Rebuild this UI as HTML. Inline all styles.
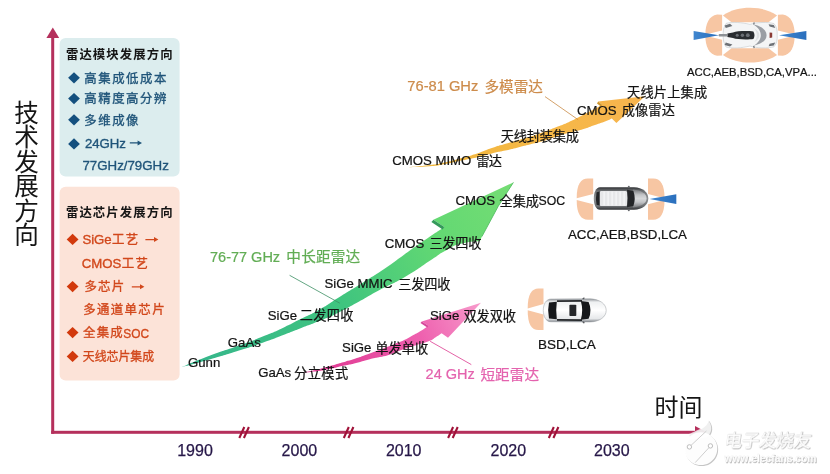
<!DOCTYPE html>
<html lang="zh"><head><meta charset="utf-8"><title>雷达技术发展方向</title>
<style>
html,body{margin:0;padding:0;background:#fff;}
body{width:830px;height:474px;overflow:hidden;font-family:"Liberation Sans","Noto Sans CJK SC",sans-serif;}
svg{display:block;font-family:"Liberation Sans","Noto Sans CJK SC",sans-serif;font-kerning:none;filter:blur(0.4px);}
</style></head><body>
<svg width="830" height="474" viewBox="0 0 830 474">
<rect width="830" height="474" fill="#fff"/>
<rect x="59.6" y="38" width="120" height="138.6" rx="6" fill="#dcedee"/>
<rect x="59.6" y="186.8" width="120" height="193.6" rx="6" fill="#fce3d8"/>
<rect x="51.2" y="36" width="3" height="397.8" fill="#b5305c"/>
<rect x="51.2" y="430.8" width="645" height="3" fill="#b5305c"/>
<path d="M52.8 27.6 L59.2 38 L46.4 38 Z" fill="#b5305c"/>
<path d="M705.8 431.8 L695 426 L695 437.6 Z" fill="#b5305c"/>
<path d="M239.3 438 l5 -11 M243.9 438 l5 -11" stroke="#a01238" stroke-width="2.1" fill="none"/>
<path d="M343.8 438 l5 -11 M348.4 438 l5 -11" stroke="#a01238" stroke-width="2.1" fill="none"/>
<path d="M448.1 438 l5 -11 M452.7 438 l5 -11" stroke="#a01238" stroke-width="2.1" fill="none"/>
<path d="M548.8 438 l5 -11 M553.4 438 l5 -11" stroke="#a01238" stroke-width="2.1" fill="none"/>
<text x="65.90" y="59.07" font-size="12.4" font-weight="bold" letter-spacing="1.1" fill="#151515">雷达模块发展方向</text>
<path d="M68.1 77.8 l5.9 -5.6 l5.9 5.6 l-5.9 5.6 Z" fill="#14507f"/>
<text x="84.30" y="82.57" font-size="12.4" letter-spacing="1.55" fill="#1f5479" stroke="#1f5479" stroke-width="0.35">高集成低成本</text>
<path d="M68.1 98.6 l5.9 -5.6 l5.9 5.6 l-5.9 5.6 Z" fill="#14507f"/>
<text x="84.30" y="103.37" font-size="12.4" letter-spacing="1.55" fill="#1f5479" stroke="#1f5479" stroke-width="0.35">高精度高分辨</text>
<path d="M68.1 119.8 l5.9 -5.6 l5.9 5.6 l-5.9 5.6 Z" fill="#14507f"/>
<text x="84.30" y="124.57" font-size="12.4" letter-spacing="1.55" fill="#1f5479" stroke="#1f5479" stroke-width="0.35">多维成像</text>
<path d="M68.1 143.9 l5.9 -5.6 l5.9 5.6 l-5.9 5.6 Z" fill="#14507f"/>
<text x="84.90" y="147.80" font-size="13.20" fill="#1f5479" stroke="#1f5479" stroke-width="0.35">24GHz</text>
<path d="M129.8 142.2 H137.6 V140.4 L142.0 142.9 L137.6 145.4 V143.6 H129.8 Z" fill="#1f5479"/>
<text x="82.40" y="170.40" font-size="13.30" fill="#1f5479" stroke="#1f5479" stroke-width="0.35">77GHz/79GHz</text>
<text x="65.90" y="217.07" font-size="12.4" font-weight="bold" letter-spacing="1.1" fill="#151515">雷达芯片发展方向</text>
<path d="M66.7 239.4 l5.9 -5.6 l5.9 5.6 l-5.9 5.6 Z" fill="#d2390c"/>
<text x="82.40" y="244.20" font-size="13.20" fill="#d2481c" stroke="#d2481c" stroke-width="0.35">SiGe</text>
<text x="112.05" y="244.17" font-size="12.4" letter-spacing="1.4" fill="#d2481c" stroke="#d2481c" stroke-width="0.35">工艺</text>
<path d="M145.4 238.9 H154.0 V237.1 L158.4 239.6 L154.0 242.1 V240.2 H145.4 Z" fill="#d2481c"/>
<text x="81.80" y="268.30" font-size="13.20" fill="#d2481c" stroke="#d2481c" stroke-width="0.35">CMOS</text>
<text x="121.70" y="268.27" font-size="12.4" letter-spacing="1.4" fill="#d2481c" stroke="#d2481c" stroke-width="0.35">工艺</text>
<path d="M66.7 286.6 l5.9 -5.6 l5.9 5.6 l-5.9 5.6 Z" fill="#d2390c"/>
<text x="84.50" y="291.37" font-size="12.4" letter-spacing="1.2" fill="#d2481c" stroke="#d2481c" stroke-width="0.35">多芯片</text>
<path d="M131.8 286.2 H140.0 V284.3 L144.4 286.8 L140.0 289.3 V287.4 H131.8 Z" fill="#d2481c"/>
<text x="83.20" y="314.47" font-size="12.4" letter-spacing="1.4" fill="#d2481c" stroke="#d2481c" stroke-width="0.35">多通道单芯片</text>
<path d="M66.7 332.6 l5.9 -5.6 l5.9 5.6 l-5.9 5.6 Z" fill="#d2390c"/>
<text x="83.10" y="337.47" font-size="12.4" letter-spacing="1.2" fill="#d2481c" stroke="#d2481c" stroke-width="0.35">全集成</text>
<text x="123.30" y="337.60" font-size="13.20" fill="#d2481c" stroke="#d2481c" stroke-width="0.35" textLength="25.8" lengthAdjust="spacingAndGlyphs">SOC</text>
<path d="M66.7 356.4 l5.9 -5.6 l5.9 5.6 l-5.9 5.6 Z" fill="#d2390c"/>
<text x="82.80" y="361.17" font-size="12.4" textLength="71.2" lengthAdjust="spacingAndGlyphs" fill="#d2481c" stroke="#d2481c" stroke-width="0.35">天线芯片集成</text>
<text x="14.22" y="121.87" font-size="24.6" fill="#151515">技</text>
<text x="14.22" y="146.32" font-size="24.6" fill="#151515">术</text>
<text x="14.22" y="170.77" font-size="24.6" fill="#151515">发</text>
<text x="14.22" y="195.22" font-size="24.6" fill="#151515">展</text>
<text x="14.22" y="219.67" font-size="24.6" fill="#151515">方</text>
<text x="14.22" y="244.12" font-size="24.6" fill="#151515">向</text>
<text x="654.44" y="415.64" font-size="24" fill="#151515">时间</text>
<text x="195.0" y="456.3" font-size="16" text-anchor="middle" fill="#261748" stroke="#261748" stroke-width="0.25">1990</text>
<text x="299.4" y="456.3" font-size="16" text-anchor="middle" fill="#261748" stroke="#261748" stroke-width="0.25">2000</text>
<text x="403.7" y="456.3" font-size="16" text-anchor="middle" fill="#261748" stroke="#261748" stroke-width="0.25">2010</text>
<text x="508.3" y="456.3" font-size="16" text-anchor="middle" fill="#261748" stroke="#261748" stroke-width="0.25">2020</text>
<text x="611.8" y="456.3" font-size="16" text-anchor="middle" fill="#261748" stroke="#261748" stroke-width="0.25">2030</text>
<defs>
<linearGradient id="gg" gradientUnits="userSpaceOnUse" x1="185" y1="368" x2="510" y2="185"><stop offset="0" stop-color="#35b58c"/><stop offset="0.45" stop-color="#3fc47f"/><stop offset="0.75" stop-color="#62d873"/><stop offset="1" stop-color="#74dd74"/></linearGradient>
<linearGradient id="pg" gradientUnits="userSpaceOnUse" x1="340" y1="370" x2="480" y2="303"><stop offset="0" stop-color="#e23f97"/><stop offset="0.55" stop-color="#ee5fae"/><stop offset="1" stop-color="#f79acb"/></linearGradient>
<linearGradient id="yg" gradientUnits="userSpaceOnUse" x1="410" y1="167" x2="640" y2="97"><stop offset="0" stop-color="#f0b73a"/><stop offset="0.6" stop-color="#f6b848"/><stop offset="1" stop-color="#f7b44e"/></linearGradient>
</defs>
<path d="M181.5 367.3 C190.8 363.5 190.3 363.0 209.5 355.8 C228.7 348.6 221.3 352.0 239.0 345.6 C256.7 339.2 247.9 342.6 262.7 336.6 C277.5 330.6 271.0 333.4 283.3 327.7 C295.6 322.0 287.5 325.7 299.6 319.6 C311.7 313.5 306.5 316.9 319.5 309.5 C332.5 302.1 323.9 306.6 338.7 297.4 C353.5 288.2 348.5 291.4 363.8 281.9 C379.1 272.4 371.2 277.8 384.5 268.8 C397.8 259.8 390.1 264.7 403.7 255.0 C417.3 245.3 411.8 249.2 425.3 239.8 C438.8 230.4 438.0 231.2 444.3 226.9 L433.4 219.8 L513.4 182.4 L498.2 206.3 L481.9 236.6 L480 241 C474.0 241.9 473.3 240.5 462.0 243.6 C450.7 246.7 456.5 244.8 446.0 250.4 C435.5 256.0 444.2 251.5 430.6 260.3 C417.0 269.1 422.2 266.9 405.3 276.7 C388.4 286.5 396.3 281.0 380.0 289.8 C363.7 298.6 370.7 295.3 356.4 303.1 C342.1 310.9 350.0 307.1 337.2 313.3 C324.4 319.5 330.4 316.5 318.0 321.6 C305.6 326.7 311.6 324.0 300.0 328.5 C288.4 333.0 295.7 330.3 283.3 335.1 C270.9 339.9 277.5 337.6 262.7 342.8 C247.9 348.0 256.7 345.0 239.0 350.6 C221.3 356.2 228.7 354.0 209.5 359.6 C190.3 365.2 190.8 364.7 181.5 367.3 Z" fill="url(#gg)"/>
<path d="M433.4 219.8 L444.3 226.9 L442.6 229.4 L431.4 222 Z" fill="#34995a"/>
<path d="M513.4 182.4 L498.2 206.3 L481.9 236.6" fill="none" stroke="#52bd62" stroke-width="0.9"/>
<path d="M296.0 373.0 C301.3 372.3 300.7 373.1 312.0 370.8 C323.3 368.5 320.0 368.9 330.0 366.1 C340.0 363.3 334.0 364.9 342.0 362.5 C350.0 360.1 344.8 361.9 354.1 358.9 C363.4 355.9 357.8 357.9 369.8 353.5 C381.8 349.1 379.9 349.7 390.1 345.8 C400.3 341.9 393.5 344.8 400.3 341.8 C407.1 338.8 403.7 340.3 410.4 336.7 C417.1 333.1 414.5 334.8 420.5 331.1 C426.5 327.4 425.8 327.5 428.4 325.7 L421.8 321.5 L481 302.8 L448 337.8 L441.6 333.2 C439.6 334.5 440.0 334.5 435.7 337.2 C431.4 339.9 435.2 338.6 428.6 341.3 C422.0 344.0 424.9 342.4 416.0 345.2 C407.1 348.0 410.6 346.7 402.0 349.8 C393.4 352.9 397.4 352.0 390.1 354.4 C382.8 356.8 386.8 355.4 380.0 357.0 C373.2 358.6 378.4 357.0 369.8 359.2 C361.2 361.4 363.4 361.2 354.1 363.5 C344.8 365.8 350.0 364.3 342.0 366.1 C334.0 367.9 340.0 367.1 330.0 369.0 C320.0 370.9 323.3 370.5 312.0 371.8 C300.7 373.1 301.3 372.6 296.0 373.0 Z" fill="url(#pg)"/>
<path d="M421.8 321.5 L428.4 325.7 L427.3 327.5 L420.5 323.1 Z" fill="#d6469a"/>
<path d="M408.2 167.3 C415.5 166.5 417.7 166.6 430.0 165.0 C442.3 163.4 435.0 164.5 445.0 162.4 C455.0 160.3 448.3 161.9 460.0 158.6 C471.7 155.3 469.1 156.0 480.0 152.4 C490.9 148.8 482.7 151.1 492.7 147.8 C502.7 144.5 495.9 146.9 510.0 142.6 C524.1 138.3 519.7 140.1 535.0 135.0 C550.3 129.9 544.8 131.5 556.0 127.2 C567.2 122.9 560.6 125.7 568.6 122.2 C576.6 118.7 568.8 122.4 580.0 116.6 C591.2 110.8 594.8 108.7 602.2 104.8 L598.2 101.5 L644.9 96.3 L616.4 123 L611.8 118.5 C609.7 119.4 611.5 119.0 605.6 121.3 C599.7 123.6 601.8 122.6 594.2 125.3 C586.6 128.0 590.9 126.9 582.8 129.3 C574.7 131.7 578.9 130.1 570.0 132.6 C561.1 135.1 564.9 133.9 556.0 136.7 C547.1 139.5 551.8 138.6 543.3 141.1 C534.8 143.6 539.0 142.2 530.6 144.3 C522.2 146.4 526.4 145.4 518.0 147.5 C509.6 149.6 513.7 148.7 505.3 150.6 C496.9 152.5 501.9 151.0 492.7 153.2 C483.5 155.4 488.5 154.7 477.6 157.2 C466.7 159.7 470.9 158.5 460.0 160.8 C449.1 163.1 455.0 162.2 445.0 164.0 C435.0 165.8 442.3 165.2 430.0 166.3 C417.7 167.4 415.5 167.0 408.2 167.3 Z" fill="url(#yg)"/>
<path d="M598.2 101.5 L602.2 104.8 L601.2 106.8 L597 103.4 Z" fill="#cf962f"/>
<path d="M289.6 275.3 L339.8 303.2" stroke="#3c8f63" stroke-width="0.8" fill="none"/>
<path d="M430.2 341.3 L471.3 364.6" stroke="#e0509c" stroke-width="0.9" fill="none"/>
<path d="M545 96.6 L578.1 119.7" stroke="#c98a45" stroke-width="0.8" fill="none"/>
<text x="188.00" y="367.40" font-size="13.20" fill="#131313" stroke="#131313" stroke-width="0.22">Gunn</text>
<text x="227.80" y="346.70" font-size="13.20" fill="#131313" stroke="#131313" stroke-width="0.22">GaAs</text>
<text x="267.80" y="319.80" font-size="13.20" fill="#131313" stroke="#131313" stroke-width="0.22">SiGe</text>
<text x="299.65" y="320.06" font-size="13.2" letter-spacing="0.39" fill="#131313" stroke="#131313" stroke-width="0.22">二发四收</text>
<text x="258.20" y="376.90" font-size="13.20" fill="#131313" stroke="#131313" stroke-width="0.22">GaAs</text>
<text x="294.08" y="377.97" font-size="13.2" letter-spacing="0.43" fill="#131313" stroke="#131313" stroke-width="0.22">分立模式</text>
<text x="342.10" y="352.10" font-size="13.20" fill="#131313" stroke="#131313" stroke-width="0.22">SiGe</text>
<text x="375.22" y="352.96" font-size="13.2" letter-spacing="0.1" fill="#131313" stroke="#131313" stroke-width="0.22">单发单收</text>
<text x="324.50" y="288.20" font-size="13.20" fill="#131313" stroke="#131313" stroke-width="0.22">SiGe MMIC</text>
<text x="398.14" y="289.36" font-size="13.2" letter-spacing="-0.14" fill="#131313" stroke="#131313" stroke-width="0.22">三发四收</text>
<text x="384.80" y="248.10" font-size="13.20" fill="#131313" stroke="#131313" stroke-width="0.22">CMOS</text>
<text x="429.44" y="248.16" font-size="13.2" letter-spacing="-0.28" fill="#131313" stroke="#131313" stroke-width="0.22">三发四收</text>
<text x="455.60" y="205.40" font-size="13.20" fill="#131313" stroke="#131313" stroke-width="0.22">CMOS</text>
<text x="499.52" y="205.65" font-size="13.2" letter-spacing="-0.07" fill="#131313" stroke="#131313" stroke-width="0.22">全集成</text>
<text x="538.60" y="205.40" font-size="13.20" fill="#131313" textLength="26.6" lengthAdjust="spacingAndGlyphs" stroke="#131313" stroke-width="0.22">SOC</text>
<text x="430.00" y="320.00" font-size="13.20" fill="#131313" stroke="#131313" stroke-width="0.22">SiGe</text>
<text x="463.51" y="320.66" font-size="13.2" letter-spacing="-0.07" fill="#131313" stroke="#131313" stroke-width="0.22">双发双收</text>
<text x="392.20" y="164.80" font-size="13.20" fill="#131313" stroke="#131313" stroke-width="0.22">CMOS MIMO</text>
<text x="476.18" y="165.63" font-size="13.2" letter-spacing="-0.65" fill="#131313" stroke="#131313" stroke-width="0.22">雷达</text>
<text x="500.72" y="141.31" font-size="13.2" letter-spacing="-0.19" fill="#131313" stroke="#131313" stroke-width="0.22">天线封装集成</text>
<text x="577.00" y="115.30" font-size="13.20" fill="#131313" stroke="#131313" stroke-width="0.22">CMOS</text>
<text x="621.68" y="115.49" font-size="13.2" letter-spacing="0.15" fill="#131313" stroke="#131313" stroke-width="0.22">成像雷达</text>
<text x="627.02" y="96.91" font-size="13.2" letter-spacing="0.19" fill="#131313" stroke="#131313" stroke-width="0.22">天线片上集成</text>
<text x="210.00" y="261.60" font-size="14.50" fill="#62ad55" stroke="#62ad55" stroke-width="0.22">76-77 GHz</text>
<text x="286.32" y="262.48" font-size="14.6" letter-spacing="0.23" fill="#62ad55" stroke="#62ad55" stroke-width="0.22">中长距雷达</text>
<text x="425.60" y="379.30" font-size="14.50" fill="#e463ae" stroke="#e463ae" stroke-width="0.22">24 GHz</text>
<text x="480.41" y="379.87" font-size="14.6" letter-spacing="0.07" fill="#e463ae" stroke="#e463ae" stroke-width="0.22">短距雷达</text>
<text x="407.30" y="91.00" font-size="14.70" fill="#cd8c4c" stroke="#cd8c4c" stroke-width="0.22">76-81 GHz</text>
<text x="484.42" y="91.68" font-size="14.6" letter-spacing="0.04" fill="#cd8c4c" stroke="#cd8c4c" stroke-width="0.22">多模雷达</text>
<text x="687.00" y="76.00" font-size="11.30" fill="#131313" stroke="#131313" stroke-width="0.22">ACC,AEB,BSD,CA,VPA...</text>
<text x="568.00" y="239.20" font-size="13.30" fill="#131313" stroke="#131313" stroke-width="0.22">ACC,AEB,BSD,LCA</text>
<text x="538.00" y="349.20" font-size="13.50" fill="#131313" stroke="#131313" stroke-width="0.22">BSD,LCA</text>
<defs>
<linearGradient id="c3" x1="0" y1="0" x2="0" y2="1"><stop offset="0" stop-color="#8f9499"/><stop offset="0.14" stop-color="#eef0f1"/><stop offset="0.5" stop-color="#ffffff"/><stop offset="0.86" stop-color="#e6e8ea"/><stop offset="1" stop-color="#7d8288"/></linearGradient>
<linearGradient id="c2" x1="0" y1="0" x2="0" y2="1"><stop offset="0" stop-color="#2e3033"/><stop offset="0.16" stop-color="#6d7073"/><stop offset="0.5" stop-color="#8e9194"/><stop offset="0.84" stop-color="#6d7073"/><stop offset="1" stop-color="#2e3033"/></linearGradient>
<linearGradient id="c2h" x1="0" y1="0" x2="0" y2="1"><stop offset="0" stop-color="#77797c"/><stop offset="0.3" stop-color="#c4c6c9"/><stop offset="0.5" stop-color="#d6d8da"/><stop offset="0.7" stop-color="#c4c6c9"/><stop offset="1" stop-color="#77797c"/></linearGradient>
<linearGradient id="bt" x1="0" y1="0" x2="1" y2="0"><stop offset="0" stop-color="#3f86cf"/><stop offset="1" stop-color="#2a6fbd"/></linearGradient>
</defs>
<path d="M543.5 288.6 L538.4 288.6 C531.7 288.6 527.6 294.4 527.7 308.4 L543.5 304.1 Z" fill="#f7c6a3"/>
<path d="M543.5 330.0 L538.4 330.0 C531.7 330.0 527.6 324.2 527.7 310.2 L543.5 314.5 Z" fill="#f7c6a3"/>
<path d="M551 299 L590 298.8 C600 299.2 606.2 304 606.2 310.4 C606.2 316.8 600 321.6 590 322 L551 321.8 C546 321.8 543.3 316.5 543.3 310.4 C543.3 304.3 546 299 551 299 Z" fill="url(#c3)" stroke="#9a9ea3" stroke-width="0.5"/>
<path d="M557 300.2 L582 300 L582 301.8 L557 302 Z M557 320.8 L582 321 L582 319.2 L557 319 Z" fill="#26282b"/>
<path d="M549 302.6 Q547.2 310.4 549 318.4 L556.8 319.2 Q555.6 310.4 556.8 301.8 Z" fill="#16181b"/>
<path d="M580.8 301 L588.6 302 Q592.4 310.4 588.6 318.8 L580.8 319.8 Q583.6 310.4 580.8 301 Z" fill="#16181b"/>
<rect x="569.4" y="304.8" width="6.9" height="11.2" rx="0.8" fill="#25272a"/>
<path d="M582 299 l1.6 -1.6 l1.2 0.4 l-0.8 1.4 Z M582 321.8 l1.6 1.6 l1.2 -0.4 l-0.8 -1.4 Z" fill="#55585c"/>
<path d="M593.2 178.6 L587.9 178.6 C580.9 178.6 576.6 184.4 576.7 198.3 L593.2 194.0 Z" fill="#f7c6a3"/>
<path d="M593.2 219.8 L587.9 219.8 C580.9 219.8 576.6 214.0 576.7 200.1 L593.2 204.3 Z" fill="#f7c6a3"/>
<path d="M648.0 178.6 L653.3 178.6 C660.3 178.6 664.6 184.4 664.5 198.3 L648.0 194.0 Z" fill="#f7c6a3"/>
<path d="M648.0 219.8 L653.3 219.8 C660.3 219.8 664.6 214.0 664.5 200.1 L648.0 204.3 Z" fill="#f7c6a3"/>
<path d="M649.5 198.9 L676.3 194.2 L676.3 204 Z" fill="url(#bt)"/>
<path d="M600 187.2 L634 187.2 C642.5 187.6 648.3 192 648.3 198.5 C648.3 205 642.5 209.4 634 209.8 L600 209.8 C596 209.8 593.8 204.5 593.8 198.5 C593.8 192.5 596 187.2 600 187.2 Z" fill="url(#c2)"/>
<path d="M633 189.6 C641 190.4 646.6 193.5 646.6 198.5 C646.6 203.5 641 206.6 633 207.4 Z" fill="url(#c2h)"/>
<rect x="599.6" y="191" width="27.6" height="15" rx="1.5" fill="#e6e7e9"/>
<rect x="603.5" y="191.6" width="1.2" height="13.8" fill="#f6f7f8"/>
<rect x="607.5" y="191.6" width="1.2" height="13.8" fill="#f6f7f8"/>
<rect x="611.5" y="191.6" width="1.2" height="13.8" fill="#f6f7f8"/>
<rect x="615.5" y="191.6" width="1.2" height="13.8" fill="#f6f7f8"/>
<rect x="619.5" y="191.6" width="1.2" height="13.8" fill="#f6f7f8"/>
<rect x="623.5" y="191.6" width="1.2" height="13.8" fill="#f6f7f8"/>
<path d="M627 189.8 L633.4 191 Q636 198.5 633.4 206 L627 207.2 Q628.6 198.5 627 189.8 Z" fill="#232528"/>
<path d="M596.6 192.2 Q595.2 198.5 596.6 204.8 L599.6 205.6 L599.6 191.4 Z" fill="#232528"/>
<path d="M627.4 187.2 l1.2 -1.4 l1.2 0.2 l-0.4 1.2 Z M627.4 209.8 l1.2 1.4 l1.2 -0.2 l-0.4 -1.2 Z" fill="#5b5e62"/>
<path d="M722.9 15.4 C731 10 740 7.8 750 7.8 C760 7.8 769 10 777.1 15.4 L768.5 22.2 L731.5 22.2 Z" fill="#f7c6a3"/>
<path d="M722.9 55 C731 60.4 740 62.6 750 62.6 C760 62.6 769 60.4 777.1 55 L768.5 48.2 L731.5 48.2 Z" fill="#f7c6a3"/>
<path d="M722.1 14.8 L717.1 14.6 C709.1 15.7 705.2 24.2 705.4 34.6 L722.1 30.6 Z" fill="#f7c6a3"/>
<path d="M722.1 55.6 L717.1 55.8 C709.1 54.7 705.2 46.2 705.4 35.8 L722.1 39.8 Z" fill="#f7c6a3"/>
<path d="M777.9 14.8 L782.9 14.6 C790.9 15.7 794.8 24.2 794.6 34.6 L777.9 30.6 Z" fill="#f7c6a3"/>
<path d="M777.9 55.6 L782.9 55.8 C790.9 54.7 794.8 46.2 794.6 35.8 L777.9 39.8 Z" fill="#f7c6a3"/>
<path d="M693.6 31 L718.9 35.2 L693.6 40 Z" fill="url(#bt)"/>
<path d="M806.4 31 L779 35.2 L806.4 40 Z" fill="url(#bt)"/>
<path d="M726 23.4 C732 21.6 742 22.4 750 24.4 C756 22.2 768 21.8 774 23.6 C777 27 777.4 31 777.2 35.2 C777.4 39.4 777 43.4 774 46.8 C768 48.6 756 48.2 750 46 C742 48 732 48.8 726 47 C723.4 43 723 39 723.2 35.2 C723 31.4 723.4 27.4 726 23.4 Z" fill="#f4f5f6" stroke="#c3c7cb" stroke-width="0.6"/>
<path d="M724.6 25.4 l5.4 -1.6 l2.4 2.2 l-6.6 2 Z M724.6 45 l5.4 1.6 l2.4 -2.2 l-6.6 -2 Z M768.6 24.2 l5.2 0.8 l1.4 3 l-5.6 -1.4 Z M768.6 46.2 l5.2 -0.8 l1.4 -3 l-5.6 1.4 Z" fill="#6e7277"/>
<path d="M753.4 24.6 C762.4 26.4 766.6 30.6 766.6 35.2 C766.6 39.8 762.4 44 753.4 45.8 C758.6 42.6 760.8 39 760.8 35.2 C760.8 31.4 758.6 27.8 753.4 24.6 Z" fill="#9a9ea4"/>
<path d="M754.2 28.2 C758 30.4 759.4 32.8 759.4 35.2 C759.4 37.6 758 40 754.2 42.2 C756.2 39.8 756.8 37.4 756.8 35.2 C756.8 33 756.2 30.6 754.2 28.2 Z" fill="#dfe1e4"/>
<path d="M727.4 33.4 L733 32.4 C737 30.8 748 30.6 753.4 31.4 Q755.6 35.2 753.4 39 C748 39.8 737 39.6 733 38 L727.4 37 Z" fill="#2a2d31"/>
<circle cx="737.2" cy="35.2" r="1.5" fill="#6b6f75"/><circle cx="742.4" cy="35.2" r="1.7" fill="#6b6f75"/><circle cx="747.8" cy="35.2" r="1.9" fill="#6b6f75"/>
<rect x="718.6" y="33.9" width="9" height="2.6" rx="1" fill="#8d9196"/>
<path d="M769.6 32.4 L772.2 32.8 L772.2 37.6 L769.6 38 Z" fill="#8a3b35"/>
<path d="M753 24.4 l0.6 -2.2 l1.2 0.2 l-0.4 2.2 Z M753 46 l0.6 2.2 l1.2 -0.2 l-0.4 -2.2 Z" fill="#777b80"/>
<defs><filter id="sb" x="-10%" y="-10%" width="120%" height="120%"><feGaussianBlur stdDeviation="0.45"/></filter></defs>
<g filter="url(#sb)" opacity="0.85"><path d="M700.8 432.3 a16.4 16.4 0 1 0 0.1 0 Z" fill="#bcbcbc" transform="translate(0.9 1)"/><path d="M707.9 420.1 C712.5 425.5 712.5 432 707 437.5 L690 440 L688.2 434.3 C694 431.8 699 429.5 701.1 428.2 C704.5 426 706.8 423.2 707.9 420.1 Z" fill="#bcbcbc" transform="translate(1 0.6)"/></g>
<path d="M700.8 432.3 a16.4 16.4 0 1 0 0.1 0 Z" fill="#fff" fill-opacity="0.97"/>
<path d="M707.9 420.1 C712.5 425.5 712.5 432 707 437.5 L690 440 L688.2 434.3 C694 431.8 699 429.5 701.1 428.2 C704.5 426 706.8 423.2 707.9 420.1 Z" fill="#fff" fill-opacity="0.74"/>
<path d="M691 445.4 L706.4 431 M709 447.6 L695.2 462.6" stroke="#cfcfcf" stroke-width="1" fill="none"/>
<circle cx="689.4" cy="446.9" r="2.2" fill="#fff" stroke="#bdbdbd" stroke-width="1"/><circle cx="710.4" cy="445.9" r="2.2" fill="#fff" stroke="#bdbdbd" stroke-width="1"/>
<g fill="#bcbcbc" stroke="#bcbcbc" stroke-width="0.5" filter="url(#sb)" transform="skewX(-8) translate(62.8 0)"><text x="724.50" y="447.50" font-size="17.6" letter-spacing="-0.3">电子发烧友</text></g>
<g fill="#fff" stroke="#f2f2f2" stroke-width="0.5" transform="skewX(-8) translate(62.8 0)"><text x="723.60" y="446.60" font-size="17.6" letter-spacing="-0.3">电子发烧友</text></g>
<text x="725.1" y="462.7" font-size="10.3" font-weight="bold" fill="#bcbcbc" stroke="#bcbcbc" stroke-width="0.3" filter="url(#sb)">www.elecfans.com</text>
<text x="724.3" y="461.8" font-size="10.3" font-weight="bold" fill="#fff" stroke="#f0f0f0" stroke-width="0.3">www.elecfans.com</text>
</svg>
</body></html>
